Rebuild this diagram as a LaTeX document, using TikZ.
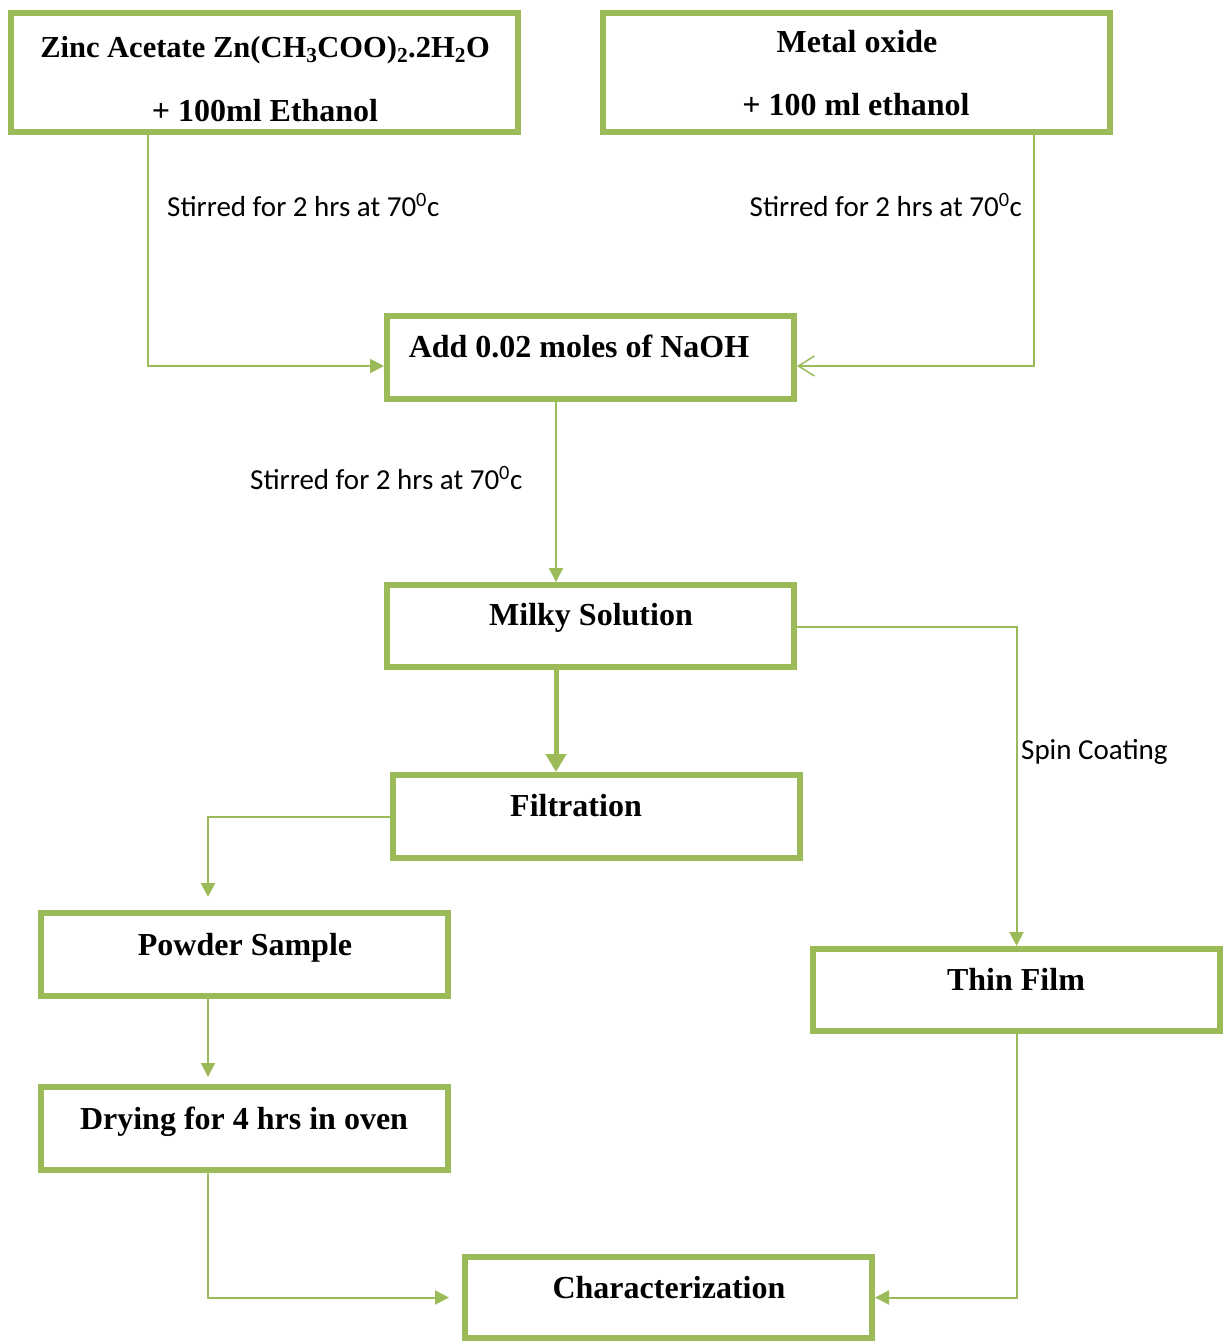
\documentclass[tikz,border=0pt]{standalone}
\usepackage{fontspec}
\setmainfont{Liberation Serif}
\newfontfamily\lblfont{Carlito}
\usetikzlibrary{arrows.meta}
\definecolor{olive}{HTML}{9BBB59}
\tikzset{
  box/.style={draw=olive, line width=6pt, minimum width=407pt, minimum height=83pt, inner sep=0pt},
  btxt/.style={anchor=base, inner sep=0pt, font=\fontsize{32}{38}\selectfont\bfseries},
  lbl/.style={inner sep=0pt, font=\fontsize{29}{34}\selectfont\lblfont},
  conn/.style={draw=olive, line width=2pt},
  tip/.style={-{Triangle[length=14pt,width=14pt]}},
}
\begin{document}
\begin{tikzpicture}[x=1pt,y=-1pt]
\useasboundingbox (0,0) rectangle (1226,1341);
% boxes
\node[box, minimum width=507pt, minimum height=119pt] (zinc) at (264.5,72.5) {};
\node[box, minimum width=507pt, minimum height=119pt] (metal) at (856.5,72.5) {};
\node[box] (naoh) at (590.5,357.5) {};
\node[box, minimum height=82pt] (milky) at (590.5,626) {};
\node[box] (filt) at (596.5,816.5) {};
\node[box] (powder) at (244.5,954.5) {};
\node[box, minimum height=82pt] (thin) at (1016.5,990) {};
\node[box] (dry) at (244.5,1128.5) {};
\node[box, minimum height=81pt] (char) at (668.5,1297.5) {};
% box texts
\node[btxt, font=\fontsize{30.5}{36}\selectfont\bfseries] (tz1) at (265,57) {Zinc Acetate Zn(CH\textsubscript{3}COO)\textsubscript{2}.2H\textsubscript{2}O};
\node[btxt] (tz2) at (265,121) {+ 100ml Ethanol};
\node[btxt] (tm1) at (857,52) {Metal oxide};
\node[btxt] (tm2) at (856,115) {+ 100 ml ethanol};
\node[btxt] (tn) at (579,357) {Add 0.02 moles of NaOH};
\node[btxt] (tmi) at (591,625) {Milky Solution};
\node[btxt] (tf) at (576,816) {Filtration};
\node[btxt] (tp) at (245,955) {Powder Sample};
\node[btxt] (tt) at (1016,990) {Thin Film};
\node[btxt] (td) at (244,1129) {Drying for 4 hrs in oven};
\node[btxt] (tc) at (669,1298) {Characterization};
% labels
\node[lbl, anchor=base west] (l1) at (167,216) {Stirred for 2 hrs at 70\textsuperscript{0}c};
\node[lbl, anchor=base east] (l2) at (1022,216) {Stirred for 2 hrs at 70\textsuperscript{0}c};
\node[lbl, anchor=base west] (l3) at (250,489) {Stirred for 2 hrs at 70\textsuperscript{0}c};
\node[lbl, anchor=base west] (l4) at (1021,759) {Spin Coating};
% helper coordinates
\coordinate (zx) at (148,0);
\coordinate (mx) at (1034,0);
\coordinate (ax) at (556,0);
\coordinate (px) at (208,0);
% connectors
\draw[conn, tip] (zinc.south -| zx) |- ([yshift=-8.5pt]naoh.west);
\draw[conn, -{Straight Barb[length=16pt,width=20pt,line width=1.5pt]}] (metal.south -| mx) |- ([yshift=-8.5pt]naoh.east);
\draw[conn, tip] (naoh.south -| ax) -- (milky.north -| ax);
\draw[conn, line width=5pt, -{Triangle[length=18pt,width=20pt]}] (milky.south -| ax) -- (filt.north -| ax);
\draw[conn, tip] ([yshift=-1pt]milky.east) -| (thin.north);
\draw[conn, tip, shorten >=13pt] (filt.west) -| (powder.north -| px);
\draw[conn, tip, shorten >=7pt] (powder.south -| px) -- (dry.north -| px);
\draw[conn, tip, shorten >=13pt] (dry.south -| px) |- (char.west);
\draw[conn, tip] (thin.south) |- (char.east);
\end{tikzpicture}
\end{document}
